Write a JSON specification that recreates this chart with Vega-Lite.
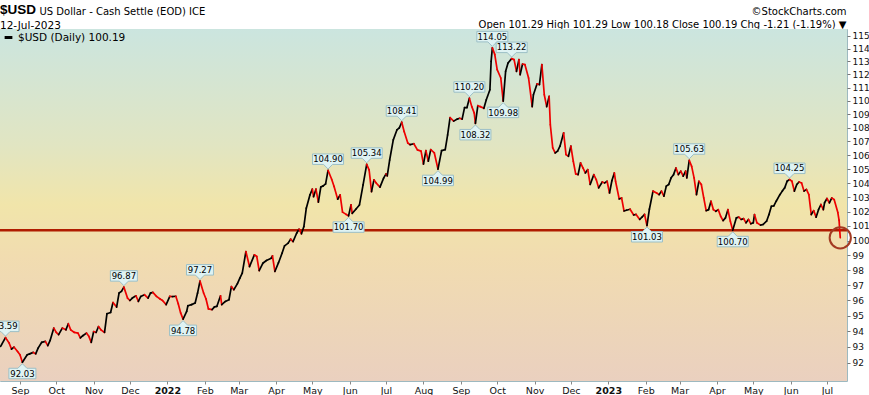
{
"$schema": "https://vega.github.io/schema/vega-lite/v6.json",
"width": 847, "height": 352,
"autosize": {"type": "none"},
"padding": {"left": 0, "top": 29, "right": 22, "bottom": 14},
"background": "white",
"config": {"view": {"stroke": "#9db9c0", "strokeWidth": 1}, "font": "DejaVu Sans"},
"title": {"text": "$USD", "subtitle": "12-Jul-2023", "anchor": "start", "frame": "group", "font": "Liberation Sans", "fontSize": 13.5, "fontWeight": "bold", "color": "#000", "subtitleFont": "DejaVu Sans", "subtitleFontSize": 10.5, "subtitleColor": "#000", "subtitlePadding": 4, "offset": 2, "dy": 27},
"data": {"values": [
{"date":"2021-08-16","value":93.03},{"date":"2021-08-20","value":93.59},{"date":"2021-08-23","value":93.25},{"date":"2021-08-25","value":92.86},{"date":"2021-08-27","value":92.99},{"date":"2021-08-30","value":92.71},{"date":"2021-09-01","value":92.50},{"date":"2021-09-03","value":92.03},{"date":"2021-09-07","value":92.50},{"date":"2021-09-09","value":92.56},{"date":"2021-09-12","value":92.65},{"date":"2021-09-14","value":92.56},{"date":"2021-09-16","value":92.92},{"date":"2021-09-19","value":93.29},{"date":"2021-09-22","value":93.35},{"date":"2021-09-24","value":93.08},{"date":"2021-09-26","value":93.42},{"date":"2021-09-29","value":94.20},
{"date":"2021-10-01","value":93.92},{"date":"2021-10-03","value":93.78},{"date":"2021-10-06","value":94.20},{"date":"2021-10-09","value":94.09},{"date":"2021-10-11","value":94.48},{"date":"2021-10-13","value":94.09},{"date":"2021-10-16","value":93.92},{"date":"2021-10-19","value":93.88},{"date":"2021-10-21","value":93.57},{"date":"2021-10-23","value":93.71},{"date":"2021-10-26","value":93.88},{"date":"2021-10-28","value":93.67},{"date":"2021-10-30","value":93.29},
{"date":"2021-11-01","value":93.98},{"date":"2021-11-03","value":93.92},{"date":"2021-11-05","value":94.30},{"date":"2021-11-07","value":94.09},{"date":"2021-11-10","value":93.92},{"date":"2021-11-12","value":95.13},{"date":"2021-11-15","value":95.21},{"date":"2021-11-17","value":95.86},{"date":"2021-11-20","value":95.56},{"date":"2021-11-22","value":96.48},{"date":"2021-11-24","value":96.59},{"date":"2021-11-26","value":96.87},{"date":"2021-11-29","value":96.15},
{"date":"2021-12-01","value":95.99},{"date":"2021-12-03","value":96.15},{"date":"2021-12-06","value":96.30},{"date":"2021-12-08","value":95.93},{"date":"2021-12-10","value":96.26},{"date":"2021-12-13","value":96.37},{"date":"2021-12-16","value":96.15},{"date":"2021-12-18","value":96.48},{"date":"2021-12-20","value":96.52},{"date":"2021-12-23","value":96.26},{"date":"2021-12-26","value":96.09},{"date":"2021-12-28","value":95.99},{"date":"2021-12-31","value":95.72},
{"date":"2022-01-03","value":96.26},{"date":"2022-01-05","value":96.25},{"date":"2022-01-08","value":96.27},{"date":"2022-01-10","value":95.78},{"date":"2022-01-12","value":95.18},{"date":"2022-01-14","value":94.78},{"date":"2022-01-17","value":95.28},{"date":"2022-01-18","value":95.65},{"date":"2022-01-21","value":95.72},{"date":"2022-01-24","value":95.83},{"date":"2022-01-26","value":96.48},{"date":"2022-01-28","value":97.27},{"date":"2022-01-31","value":96.48},
{"date":"2022-02-02","value":96.09},{"date":"2022-02-04","value":95.44},{"date":"2022-02-07","value":95.40},{"date":"2022-02-09","value":95.57},{"date":"2022-02-11","value":95.61},{"date":"2022-02-14","value":96.30},{"date":"2022-02-15","value":95.72},{"date":"2022-02-18","value":95.93},{"date":"2022-02-21","value":96.04},{"date":"2022-02-23","value":96.91},{"date":"2022-02-25","value":96.70},{"date":"2022-02-28","value":97.10},
{"date":"2022-03-02","value":97.47},{"date":"2022-03-04","value":97.80},{"date":"2022-03-07","value":99.25},{"date":"2022-03-10","value":98.24},{"date":"2022-03-14","value":99.03},{"date":"2022-03-16","value":98.92},{"date":"2022-03-18","value":97.97},{"date":"2022-03-21","value":98.46},{"date":"2022-03-24","value":98.65},{"date":"2022-03-28","value":98.80},{"date":"2022-03-29","value":98.96},{"date":"2022-03-31","value":97.91},
{"date":"2022-04-03","value":98.50},{"date":"2022-04-06","value":99.15},{"date":"2022-04-08","value":99.64},{"date":"2022-04-11","value":99.82},{"date":"2022-04-13","value":100.10},{"date":"2022-04-15","value":99.93},{"date":"2022-04-18","value":100.50},{"date":"2022-04-20","value":100.78},{"date":"2022-04-22","value":100.46},{"date":"2022-04-24","value":100.96},{"date":"2022-04-26","value":102.23},{"date":"2022-04-29","value":103.16},
{"date":"2022-05-01","value":103.57},{"date":"2022-05-02","value":103.04},{"date":"2022-05-04","value":103.57},{"date":"2022-05-06","value":102.66},{"date":"2022-05-08","value":103.72},{"date":"2022-05-10","value":103.80},{"date":"2022-05-12","value":103.94},{"date":"2022-05-14","value":104.90},{"date":"2022-05-17","value":104.27},{"date":"2022-05-19","value":103.76},{"date":"2022-05-22","value":102.86},{"date":"2022-05-24","value":103.16},{"date":"2022-05-26","value":101.96},{"date":"2022-05-29","value":101.80},{"date":"2022-05-31","value":101.70},
{"date":"2022-06-02","value":102.46},{"date":"2022-06-03","value":101.87},{"date":"2022-06-06","value":102.16},{"date":"2022-06-09","value":102.46},{"date":"2022-06-12","value":103.87},{"date":"2022-06-15","value":105.34},{"date":"2022-06-17","value":104.94},{"date":"2022-06-19","value":103.40},{"date":"2022-06-21","value":104.23},{"date":"2022-06-23","value":103.99},{"date":"2022-06-26","value":103.71},{"date":"2022-06-29","value":104.35},
{"date":"2022-07-01","value":104.65},{"date":"2022-07-02","value":104.51},{"date":"2022-07-04","value":105.65},{"date":"2022-07-07","value":107.11},{"date":"2022-07-10","value":107.84},{"date":"2022-07-12","value":107.99},{"date":"2022-07-14","value":108.41},{"date":"2022-07-16","value":107.72},{"date":"2022-07-19","value":106.88},{"date":"2022-07-21","value":106.76},{"date":"2022-07-24","value":106.83},{"date":"2022-07-27","value":106.38},{"date":"2022-07-30","value":106.29},
{"date":"2022-08-01","value":105.36},{"date":"2022-08-03","value":106.33},{"date":"2022-08-05","value":105.56},{"date":"2022-08-07","value":106.40},{"date":"2022-08-10","value":106.16},{"date":"2022-08-13","value":104.99},{"date":"2022-08-16","value":106.33},{"date":"2022-08-19","value":106.40},{"date":"2022-08-21","value":107.47},{"date":"2022-08-23","value":108.75},{"date":"2022-08-26","value":108.49},{"date":"2022-08-29","value":108.64},{"date":"2022-08-31","value":108.70},
{"date":"2022-09-02","value":108.64},{"date":"2022-09-04","value":109.49},{"date":"2022-09-06","value":109.50},{"date":"2022-09-08","value":110.20},{"date":"2022-09-10","value":109.57},{"date":"2022-09-12","value":109.10},{"date":"2022-09-13","value":108.32},{"date":"2022-09-15","value":109.64},{"date":"2022-09-17","value":109.57},{"date":"2022-09-20","value":109.44},{"date":"2022-09-22","value":110.08},{"date":"2022-09-25","value":110.84},{"date":"2022-09-26","value":113.00},{"date":"2022-09-27","value":114.05},{"date":"2022-09-29","value":113.55},
{"date":"2022-10-01","value":112.37},{"date":"2022-10-04","value":111.73},{"date":"2022-10-06","value":109.98},{"date":"2022-10-08","value":112.24},{"date":"2022-10-10","value":112.88},{"date":"2022-10-13","value":113.22},{"date":"2022-10-15","value":113.14},{"date":"2022-10-17","value":112.24},{"date":"2022-10-19","value":113.14},{"date":"2022-10-20","value":111.98},{"date":"2022-10-22","value":112.80},{"date":"2022-10-24","value":112.75},{"date":"2022-10-27","value":111.73},{"date":"2022-10-30","value":109.57},{"date":"2022-10-31","value":110.46},
{"date":"2022-11-03","value":111.28},{"date":"2022-11-05","value":111.23},{"date":"2022-11-07","value":112.75},{"date":"2022-11-09","value":110.46},{"date":"2022-11-11","value":109.57},{"date":"2022-11-13","value":110.34},{"date":"2022-11-14","value":108.22},{"date":"2022-11-16","value":106.53},{"date":"2022-11-18","value":106.16},{"date":"2022-11-20","value":106.29},{"date":"2022-11-22","value":106.65},{"date":"2022-11-25","value":107.62},{"date":"2022-11-27","value":106.04},{"date":"2022-11-29","value":105.92},
{"date":"2022-12-01","value":106.65},{"date":"2022-12-03","value":105.56},{"date":"2022-12-05","value":104.65},{"date":"2022-12-07","value":104.60},{"date":"2022-12-09","value":105.44},{"date":"2022-12-11","value":105.08},{"date":"2022-12-13","value":104.72},{"date":"2022-12-15","value":104.96},{"date":"2022-12-17","value":103.90},{"date":"2022-12-20","value":104.60},{"date":"2022-12-22","value":104.25},{"date":"2022-12-24","value":103.66},{"date":"2022-12-27","value":104.08},{"date":"2022-12-29","value":104.01},{"date":"2022-12-31","value":104.13},
{"date":"2023-01-02","value":103.30},{"date":"2023-01-04","value":104.18},{"date":"2023-01-06","value":104.72},{"date":"2023-01-07","value":104.13},{"date":"2023-01-10","value":102.88},{"date":"2023-01-12","value":102.95},{"date":"2023-01-14","value":102.04},{"date":"2023-01-16","value":102.09},{"date":"2023-01-19","value":102.16},{"date":"2023-01-22","value":101.76},{"date":"2023-01-24","value":101.80},{"date":"2023-01-27","value":101.45},{"date":"2023-01-29","value":101.62},{"date":"2023-01-31","value":101.80},
{"date":"2023-02-02","value":101.03},{"date":"2023-02-04","value":102.16},{"date":"2023-02-07","value":103.43},{"date":"2023-02-10","value":103.30},{"date":"2023-02-12","value":103.18},{"date":"2023-02-14","value":103.43},{"date":"2023-02-16","value":103.07},{"date":"2023-02-18","value":103.78},{"date":"2023-02-20","value":103.90},{"date":"2023-02-22","value":104.37},{"date":"2023-02-24","value":104.60},{"date":"2023-02-26","value":105.08},{"date":"2023-02-28","value":104.60},
{"date":"2023-03-02","value":104.85},{"date":"2023-03-04","value":104.49},{"date":"2023-03-06","value":104.85},{"date":"2023-03-07","value":104.37},{"date":"2023-03-09","value":105.63},{"date":"2023-03-11","value":105.19},{"date":"2023-03-13","value":104.37},{"date":"2023-03-15","value":103.18},{"date":"2023-03-17","value":104.13},{"date":"2023-03-19","value":103.90},{"date":"2023-03-21","value":102.95},{"date":"2023-03-23","value":102.06},{"date":"2023-03-25","value":102.13},{"date":"2023-03-27","value":102.72},{"date":"2023-03-29","value":102.13},{"date":"2023-03-31","value":102.02},
{"date":"2023-04-02","value":102.13},{"date":"2023-04-04","value":101.67},{"date":"2023-04-06","value":101.37},{"date":"2023-04-08","value":101.56},{"date":"2023-04-10","value":102.13},{"date":"2023-04-12","value":101.33},{"date":"2023-04-14","value":100.70},{"date":"2023-04-17","value":101.56},{"date":"2023-04-19","value":101.61},{"date":"2023-04-21","value":101.45},{"date":"2023-04-23","value":101.51},{"date":"2023-04-25","value":101.22},{"date":"2023-04-27","value":101.45},{"date":"2023-04-29","value":101.15},
{"date":"2023-05-01","value":101.22},{"date":"2023-05-02","value":101.79},{"date":"2023-05-04","value":101.22},{"date":"2023-05-07","value":101.06},{"date":"2023-05-09","value":101.10},{"date":"2023-05-12","value":101.33},{"date":"2023-05-14","value":101.79},{"date":"2023-05-16","value":102.37},{"date":"2023-05-18","value":102.40},{"date":"2023-05-20","value":102.72},{"date":"2023-05-23","value":103.18},{"date":"2023-05-25","value":103.43},{"date":"2023-05-27","value":103.66},{"date":"2023-05-29","value":104.13},{"date":"2023-05-31","value":104.25},
{"date":"2023-06-02","value":104.13},{"date":"2023-06-04","value":103.43},{"date":"2023-06-06","value":103.90},{"date":"2023-06-08","value":104.08},{"date":"2023-06-10","value":104.01},{"date":"2023-06-12","value":103.43},{"date":"2023-06-14","value":103.55},{"date":"2023-06-16","value":103.18},{"date":"2023-06-18","value":101.79},{"date":"2023-06-20","value":102.06},{"date":"2023-06-22","value":101.61},{"date":"2023-06-24","value":102.13},{"date":"2023-06-26","value":102.49},{"date":"2023-06-28","value":102.13},{"date":"2023-06-29","value":102.61},
{"date":"2023-07-01","value":102.91},{"date":"2023-07-03","value":102.61},{"date":"2023-07-05","value":102.95},{"date":"2023-07-07","value":102.83},{"date":"2023-07-10","value":101.93},{"date":"2023-07-11","value":101.40},{"date":"2023-07-12","value":100.19}
], "format": {"parse": {"date": "date"}}},
"layer": [
{"data": {"values": [{}]},
 "mark": {"type": "rect", "color": {"gradient": "linear", "x1": 0, "y1": 0, "x2": 0, "y2": 1, "stops": [{"offset": 0, "color": "#cbe5df"}, {"offset": 0.33, "color": "#e1e5c2"}, {"offset": 0.5, "color": "#f1e5aa"}, {"offset": 0.65, "color": "#f1dcb0"}, {"offset": 1, "color": "#ead0bf"}]}},
 "encoding": {}},
{"data": {"values": [{}]},
 "mark": {"type": "rule", "color": "#b01c00", "strokeWidth": 2.5},
 "encoding": {"y": {"datum": 100.7, "type": "quantitative"}}},
{"transform": [
  {"window": [{"op": "lag", "field": "date", "as": "prevDate"}, {"op": "lag", "field": "value", "as": "prevValue"}], "sort": [{"field": "date", "order": "ascending"}]},
  {"filter": "datum.prevValue != null"}],
 "mark": {"type": "rule", "strokeWidth": 1.7, "strokeCap": "round"},
 "encoding": {
  "x": {"field": "prevDate", "type": "temporal",
   "scale": {"type": "utc", "domain": [{"year": 2021, "month": 8, "date": 15, "hours": 11, "utc": true}, {"year": 2023, "month": 7, "date": 17, "hours": 14, "utc": true}]},
   "axis": {"tickCount": {"interval": "month", "step": 1},
    "labelExpr": "utcmonth(datum.value) == 0 ? utcFormat(datum.value, '%Y') : utcFormat(datum.value, '%b')",
    "labelFontWeight": {"condition": {"test": "utcmonth(datum.value) == 0", "value": "bold"}, "value": "normal"},
    "grid": false, "domain": false, "tickSize": 3, "tickColor": "#888888", "labelFont": "DejaVu Sans", "labelFontSize": 9.5, "labelColor": "#111111", "labelPadding": 1, "labelOverlap": false, "labelFlush": false,
    "title": "US Dollar - Cash Settle (EOD) ICE", "titleX": 39, "titleY": -366.5, "titleAlign": "left", "titleBaseline": "alphabetic", "titleFont": "DejaVu Sans", "titleFontSize": 10, "titleFontWeight": "normal", "titleColor": "#000000"}},
  "x2": {"field": "date"},
  "y": {"field": "prevValue", "type": "quantitative",
   "scale": {"type": "log", "domain": [90.86, 115.53], "nice": false, "zero": false},
   "axis": {"orient": "right", "values": [92,93,94,95,96,97,98,99,100,101,102,103,104,105,106,107,108,109,110,111,112,113,114,115], "format": "d",
    "grid": false, "domain": false, "tickSize": 3, "tickColor": "#777777", "labelFont": "DejaVu Sans", "labelFontSize": 9, "labelColor": "#111111", "labelPadding": 2, "labelOverlap": false, "labelFlush": false,
    "title": ["©StockCharts.com", "Open 101.29  High 101.29  Low 100.18  Close 100.19  Chg -1.21 (-1.19%) ▼"],
    "titleAngle": 0, "titleAlign": "right", "titleBaseline": "alphabetic", "titleX": -1, "titleY": -15, "titleLineHeight": 13, "titleFont": "DejaVu Sans", "titleFontSize": 10, "titleFontWeight": "normal", "titleColor": "#000000"}},
  "y2": {"field": "value"},
  "color": {"condition": {"test": "datum.value < datum.prevValue", "value": "#ee0000"}, "datum": "$USD (Daily) 100.19", "scale": {"range": ["#000000"]},
   "legend": {"title": null, "orient": "top-left", "offset": 3, "symbolType": "stroke", "symbolStrokeWidth": 3, "symbolSize": 60, "labelFont": "DejaVu Sans", "labelFontSize": 10.5, "labelColor": "#000000", "labelOffset": 4, "padding": 0}}
 }},
{"transform": [{"filter": "datum.value == 100.19"}],
 "mark": {"type": "point", "shape": "circle", "size": 452, "filled": false, "stroke": "#a33a22", "strokeWidth": 2, "opacity": 1},
 "encoding": {"x": {"field": "date", "type": "temporal"}, "y": {"field": "value", "type": "quantitative"}}},
{"data": {"values": [
  {"date": "2021-08-20", "value": 93.59, "label": "93.59", "kind": "high"},
  {"date": "2021-09-03", "value": 92.03, "label": "92.03", "kind": "low"},
  {"date": "2021-11-26", "value": 96.87, "label": "96.87", "kind": "high"},
  {"date": "2022-01-14", "value": 94.78, "label": "94.78", "kind": "low"},
  {"date": "2022-01-28", "value": 97.27, "label": "97.27", "kind": "high"},
  {"date": "2022-05-14", "value": 104.90, "label": "104.90", "kind": "high"},
  {"date": "2022-05-31", "value": 101.70, "label": "101.70", "kind": "low"},
  {"date": "2022-06-15", "value": 105.34, "label": "105.34", "kind": "high"},
  {"date": "2022-07-14", "value": 108.41, "label": "108.41", "kind": "high"},
  {"date": "2022-08-13", "value": 104.99, "label": "104.99", "kind": "low"},
  {"date": "2022-09-08", "value": 110.20, "label": "110.20", "kind": "high"},
  {"date": "2022-09-13", "value": 108.32, "label": "108.32", "kind": "low"},
  {"date": "2022-09-27", "value": 114.05, "label": "114.05", "kind": "high"},
  {"date": "2022-10-06", "value": 109.98, "label": "109.98", "kind": "low"},
  {"date": "2022-10-13", "value": 113.22, "label": "113.22", "kind": "high"},
  {"date": "2023-02-02", "value": 101.03, "label": "101.03", "kind": "low"},
  {"date": "2023-03-09", "value": 105.63, "label": "105.63", "kind": "high"},
  {"date": "2023-04-14", "value": 100.70, "label": "100.70", "kind": "low"},
  {"date": "2023-05-31", "value": 104.25, "label": "104.25", "kind": "high"}
 ], "format": {"parse": {"date": "date"}}},
 "encoding": {"x": {"field": "date", "type": "temporal"}, "y": {"field": "value", "type": "quantitative"}},
 "layer": [
  {"transform": [{"filter": "datum.kind == 'high'"}],
   "mark": {"type": "point", "filled": true, "fill": "#dff3f3", "stroke": "#9cbfc6", "strokeWidth": 1, "size": 4, "opacity": 1},
   "encoding": {"shape": {"condition": {"test": "length(datum.label) > 5", "value": "M0,-1.5L4.5,-6L15.5,-6L15.5,-16.5L-15.5,-16.5L-15.5,-6L-4.5,-6Z"}, "value": "M0,-1.5L4.5,-6L13.5,-6L13.5,-16.5L-13.5,-16.5L-13.5,-6L-4.5,-6Z"}}},
  {"transform": [{"filter": "datum.kind == 'high'"}],
   "mark": {"type": "text", "dy": -11.2, "baseline": "middle", "font": "DejaVu Sans", "fontSize": 8.5, "color": "#000000"},
   "encoding": {"text": {"field": "label"}}},
  {"transform": [{"filter": "datum.kind == 'low'"}],
   "mark": {"type": "point", "filled": true, "fill": "#dff3f3", "stroke": "#9cbfc6", "strokeWidth": 1, "size": 4, "opacity": 1},
   "encoding": {"shape": {"condition": {"test": "length(datum.label) > 5", "value": "M0,1.5L4.5,6L15.5,6L15.5,16.5L-15.5,16.5L-15.5,6L-4.5,6Z"}, "value": "M0,1.5L4.5,6L13.5,6L13.5,16.5L-13.5,16.5L-13.5,6L-4.5,6Z"}}},
  {"transform": [{"filter": "datum.kind == 'low'"}],
   "mark": {"type": "text", "dy": 11.5, "baseline": "middle", "font": "DejaVu Sans", "fontSize": 8.5, "color": "#000000"},
   "encoding": {"text": {"field": "label"}}}
 ]}
]
}
